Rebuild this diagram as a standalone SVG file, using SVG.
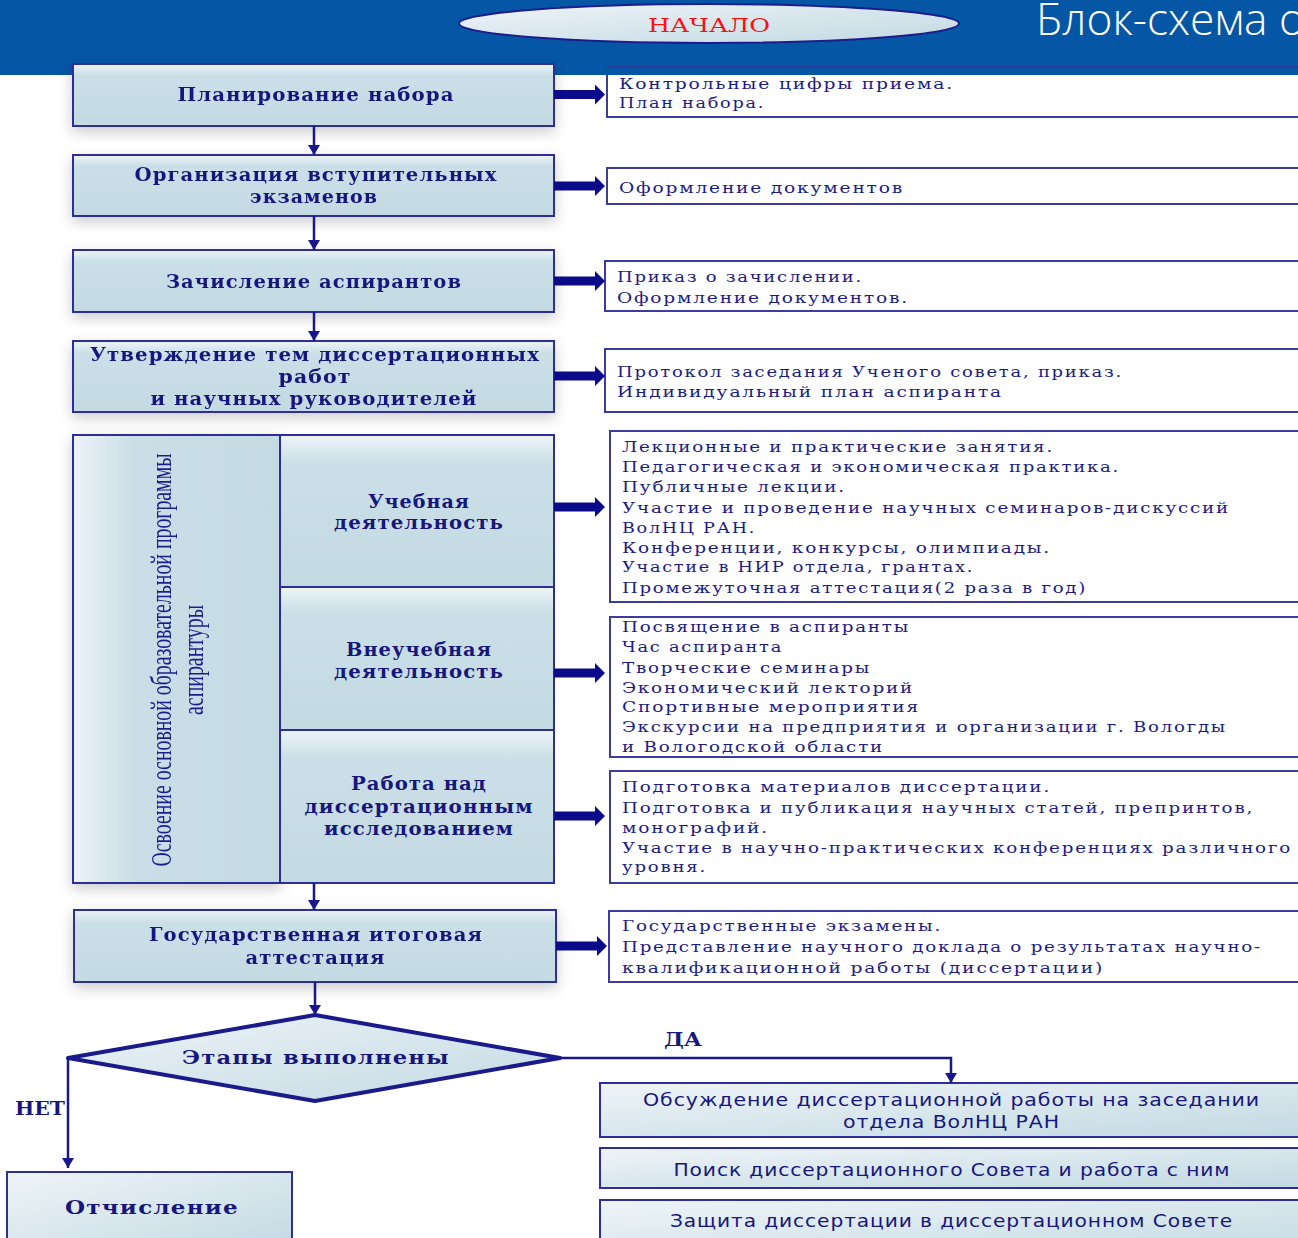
<svg xmlns="http://www.w3.org/2000/svg" width="1298" height="1238" viewBox="0 0 1298 1238">
<style>
.bx{fill:url(#gV);stroke:#2e2e98;stroke-width:2}
.bd{fill:url(#gD);stroke:#2e2e98;stroke-width:2}
.wb{fill:#fff;stroke:#3c3c9c;stroke-width:2}
.t{font-family:"DejaVu Serif","Liberation Serif",serif;font-weight:bold;font-size:18.5px;letter-spacing:1px;fill:#16167c;text-anchor:middle}
.r{font-family:"DejaVu Serif","Liberation Serif",serif;font-size:15.5px;letter-spacing:1.5px;fill:#1c1c84}
.s{font-family:"DejaVu Sans","Open Sans",sans-serif;font-size:18px;letter-spacing:0.8px;fill:#16167c;text-anchor:middle}
.lb{font-family:"DejaVu Serif","Liberation Serif",serif;font-weight:bold;font-size:18px;fill:#16167c}
.ln{fill:none;stroke:#18188c;stroke-width:2.5}
.ta{fill:#0a0a8a}
</style>
<defs>
<linearGradient id="gV" x1="0" y1="0" x2="0" y2="1">
<stop offset="0" stop-color="#eef5f8"/><stop offset="0.18" stop-color="#cadfe7"/><stop offset="1" stop-color="#c4dae3"/>
</linearGradient>
<linearGradient id="gH" x1="0" y1="0" x2="1" y2="0">
<stop offset="0" stop-color="#ecf3f7"/><stop offset="0.3" stop-color="#c9dee6"/><stop offset="1" stop-color="#c5dbe4"/>
</linearGradient>
<linearGradient id="gD" x1="0" y1="0" x2="1" y2="1">
<stop offset="0" stop-color="#eef4f8"/><stop offset="1" stop-color="#c2d9e2"/>
</linearGradient>
<filter id="sh" x="-10%" y="-15%" width="120%" height="140%">
<feDropShadow dx="0" dy="5" stdDeviation="7" flood-color="#000" flood-opacity="0.2"/>
</filter>
<marker id="ah" markerUnits="userSpaceOnUse" markerWidth="12" markerHeight="12" refX="10" refY="6" orient="auto">
<path d="M0,0 L10,6 L0,12 Z" fill="#18188c"/>
</marker>
<path id="tarr" d="M0,-4.5 H41 V-10 L51,0 L41,10 V4.5 H0 Z"/>
</defs>
<rect width="1298" height="1238" fill="#fff"/>

<g id="r1">
<rect class="wb" x="607" y="67" width="710" height="50"/>
</g>

<g id="header">
<rect x="0" y="0" width="1298" height="75" fill="#0556a5"/>
<line x1="607" y1="67" x2="1298" y2="67" stroke="#2a3c98" stroke-width="2"/>
<text x="1036" y="35" font-family="Open Sans, sans-serif" font-weight="300" font-size="45" fill="#fff" textLength="269" lengthAdjust="spacingAndGlyphs">Блок-схема о</text>
</g>

<g id="start">
<ellipse cx="709" cy="23.5" rx="250" ry="19.5" fill="url(#gD)" stroke="#1c1c8c" stroke-width="2"/>
<text x="709" y="32" font-family="DejaVu Serif, serif" font-size="19" fill="#ff1010" text-anchor="middle" textLength="122" lengthAdjust="spacingAndGlyphs">НАЧАЛО</text>
</g>

<g id="r1text">
<text class="r" x="619" y="88.5" textLength="335" lengthAdjust="spacingAndGlyphs">Контрольные цифры приема.</text>
<text class="r" x="619" y="108" textLength="146" lengthAdjust="spacingAndGlyphs">План набора.</text>
</g>

<g id="n1" filter="url(#sh)">
<rect class="bx" x="73" y="64" width="481" height="62"/>
<text class="t" x="316" y="101" textLength="277" lengthAdjust="spacingAndGlyphs">Планирование набора</text>
</g>
<g id="n2" filter="url(#sh)">
<rect class="bx" x="73" y="155" width="481" height="61"/>
<text class="t" x="316" y="181" textLength="363" lengthAdjust="spacingAndGlyphs">Организация вступительных</text>
<text class="t" x="314" y="203" textLength="128" lengthAdjust="spacingAndGlyphs">экзаменов</text>
</g>
<g id="n3" filter="url(#sh)">
<rect class="bx" x="73" y="250" width="481" height="62"/>
<text class="t" x="314" y="287.5" textLength="296" lengthAdjust="spacingAndGlyphs">Зачисление аспирантов</text>
</g>
<g id="n4" filter="url(#sh)">
<rect class="bx" x="73" y="341" width="481" height="71"/>
<text class="t" x="315" y="361" textLength="450" lengthAdjust="spacingAndGlyphs">Утверждение тем диссертационных</text>
<text class="t" x="315" y="382.5" textLength="73" lengthAdjust="spacingAndGlyphs">работ</text>
<text class="t" x="314" y="405" textLength="327" lengthAdjust="spacingAndGlyphs">и научных руководителей</text>
</g>

<g id="n5" filter="url(#sh)">
<rect x="73" y="435" width="207" height="448" fill="url(#gH)" stroke="#2e2e98" stroke-width="2"/>
<text transform="translate(171,660) rotate(-90)" font-family="Liberation Serif, serif" font-size="30" fill="#1c1c8c" text-anchor="middle" textLength="413" lengthAdjust="spacingAndGlyphs">Освоение основной образовательной программы</text>
<text transform="translate(203,660) rotate(-90)" font-family="Liberation Serif, serif" font-size="30" fill="#1c1c8c" text-anchor="middle" textLength="110" lengthAdjust="spacingAndGlyphs">аспирантуры</text>
</g>
<g id="n5a">
<rect class="bx" x="280" y="435" width="274" height="152"/>
<text class="t" x="419" y="507.5" textLength="102" lengthAdjust="spacingAndGlyphs">Учебная</text>
<text class="t" x="419" y="528.5" textLength="170" lengthAdjust="spacingAndGlyphs">деятельность</text>
</g>
<g id="n5b">
<rect class="bx" x="280" y="587" width="274" height="143"/>
<text class="t" x="419" y="656" textLength="146" lengthAdjust="spacingAndGlyphs">Внеучебная</text>
<text class="t" x="419" y="677.5" textLength="170" lengthAdjust="spacingAndGlyphs">деятельность</text>
</g>
<g id="n5c">
<rect class="bx" x="280" y="730" width="274" height="153"/>
<text class="t" x="419" y="790" textLength="136" lengthAdjust="spacingAndGlyphs">Работа над</text>
<text class="t" x="419" y="812.5" textLength="229" lengthAdjust="spacingAndGlyphs">диссертационным</text>
<text class="t" x="419" y="835" textLength="190" lengthAdjust="spacingAndGlyphs">исследованием</text>
</g>

<g id="n6" filter="url(#sh)">
<rect class="bx" x="74" y="910" width="482" height="72"/>
<text class="t" x="316" y="941" textLength="334" lengthAdjust="spacingAndGlyphs">Государственная итоговая</text>
<text class="t" x="315.5" y="963.5" textLength="140" lengthAdjust="spacingAndGlyphs">аттестация</text>
</g>

<g id="decision">
<polygon points="315,1015 560,1058 315,1101 68,1058" fill="url(#gD)" stroke="#1a1a8a" stroke-width="4" stroke-linejoin="round"/>
<text class="t" x="316" y="1064" font-size="19.5" textLength="268" lengthAdjust="spacingAndGlyphs">Этапы выполнены</text>
</g>

<g id="n7">
<rect class="bd" x="7" y="1172" width="285" height="80"/>
<text class="t" x="152" y="1214" textLength="174" lengthAdjust="spacingAndGlyphs">Отчисление</text>
</g>

<g id="n8">
<rect class="bd" x="600" y="1083" width="710" height="54"/>
<text class="s" x="951.5" y="1105.5" textLength="617" lengthAdjust="spacingAndGlyphs">Обсуждение диссертационной работы на заседании</text>
<text class="s" x="951.5" y="1128" textLength="217" lengthAdjust="spacingAndGlyphs">отдела ВолНЦ РАН</text>
</g>
<g id="n9">
<rect class="bd" x="600" y="1148" width="710" height="40"/>
<text class="s" x="952" y="1175.5" textLength="557" lengthAdjust="spacingAndGlyphs">Поиск диссертационного Совета и работа с ним</text>
</g>
<g id="n10">
<rect class="bd" x="600" y="1200" width="710" height="60"/>
<text class="s" x="951.5" y="1227" textLength="563" lengthAdjust="spacingAndGlyphs">Защита диссертации в диссертационном Совете</text>
</g>

<g id="r2">
<rect class="wb" x="607" y="168" width="710" height="36"/>
<text class="r" x="619" y="193" textLength="285" lengthAdjust="spacingAndGlyphs">Оформление документов</text>
</g>
<g id="r3">
<rect class="wb" x="605" y="261" width="710" height="50"/>
<text class="r" x="617" y="281.5" textLength="246" lengthAdjust="spacingAndGlyphs">Приказ о зачислении.</text>
<text class="r" x="617" y="302.5" textLength="292" lengthAdjust="spacingAndGlyphs">Оформление документов.</text>
</g>
<g id="r4">
<rect class="wb" x="605" y="349" width="710" height="63"/>
<text class="r" x="617" y="377" textLength="506" lengthAdjust="spacingAndGlyphs">Протокол заседания Ученого совета, приказ.</text>
<text class="r" x="617" y="396.5" textLength="386" lengthAdjust="spacingAndGlyphs">Индивидуальный план аспиранта</text>
</g>
<g id="r5">
<rect class="wb" x="610" y="431" width="710" height="171"/>
<text class="r" x="622" y="452" textLength="432" lengthAdjust="spacingAndGlyphs">Лекционные и практические занятия.</text>
<text class="r" x="622" y="472" textLength="498" lengthAdjust="spacingAndGlyphs">Педагогическая и экономическая практика.</text>
<text class="r" x="622" y="492" textLength="224" lengthAdjust="spacingAndGlyphs">Публичные лекции.</text>
<text class="r" x="622" y="512.5" textLength="608" lengthAdjust="spacingAndGlyphs">Участие и проведение научных семинаров-дискуссий</text>
<text class="r" x="622" y="532.5" textLength="134" lengthAdjust="spacingAndGlyphs">ВолНЦ РАН.</text>
<text class="r" x="622" y="552.5" textLength="429" lengthAdjust="spacingAndGlyphs">Конференции, конкурсы, олимпиады.</text>
<text class="r" x="622" y="572" textLength="352" lengthAdjust="spacingAndGlyphs">Участие в НИР отдела, грантах.</text>
<text class="r" x="622" y="593" textLength="465" lengthAdjust="spacingAndGlyphs">Промежуточная аттестация(2 раза в год)</text>
</g>
<g id="r6">
<rect class="wb" x="610" y="617" width="710" height="140"/>
<text class="r" x="622" y="632" textLength="288" lengthAdjust="spacingAndGlyphs">Посвящение в аспиранты</text>
<text class="r" x="622" y="652" textLength="161" lengthAdjust="spacingAndGlyphs">Час аспиранта</text>
<text class="r" x="622" y="672.5" textLength="249" lengthAdjust="spacingAndGlyphs">Творческие семинары</text>
<text class="r" x="622" y="692.5" textLength="292" lengthAdjust="spacingAndGlyphs">Экономический лекторий</text>
<text class="r" x="622" y="712" textLength="298" lengthAdjust="spacingAndGlyphs">Спортивные мероприятия</text>
<text class="r" x="622" y="732" textLength="605" lengthAdjust="spacingAndGlyphs">Экскурсии на предприятия и организации г. Вологды</text>
<text class="r" x="622" y="752" textLength="262" lengthAdjust="spacingAndGlyphs">и Вологодской области</text>
</g>
<g id="r7">
<rect class="wb" x="610" y="771" width="710" height="112"/>
<text class="r" x="622" y="792" textLength="429" lengthAdjust="spacingAndGlyphs">Подготовка материалов диссертации.</text>
<text class="r" x="622" y="812.5" textLength="632" lengthAdjust="spacingAndGlyphs">Подготовка и публикация научных статей, препринтов,</text>
<text class="r" x="622" y="832.5" textLength="147" lengthAdjust="spacingAndGlyphs">монографий.</text>
<text class="r" x="622" y="852.5" textLength="670" lengthAdjust="spacingAndGlyphs">Участие в научно-практических конференциях различного</text>
<text class="r" x="622" y="872" textLength="85" lengthAdjust="spacingAndGlyphs">уровня.</text>
</g>
<g id="r8">
<rect class="wb" x="609" y="911" width="710" height="71"/>
<text class="r" x="622" y="931" textLength="320" lengthAdjust="spacingAndGlyphs">Государственные экзамены.</text>
<text class="r" x="622" y="952" textLength="640" lengthAdjust="spacingAndGlyphs">Представление научного доклада о результатах научно-</text>
<text class="r" x="622" y="972.5" textLength="482" lengthAdjust="spacingAndGlyphs">квалификационной работы (диссертации)</text>
</g>

<g id="connectors">
<line class="ln" x1="314" y1="126" x2="314" y2="155" marker-end="url(#ah)"/>
<line class="ln" x1="314" y1="216" x2="314" y2="250" marker-end="url(#ah)"/>
<line class="ln" x1="314" y1="312" x2="314" y2="341" marker-end="url(#ah)"/>
<line class="ln" x1="314" y1="883" x2="314" y2="910" marker-end="url(#ah)"/>
<line class="ln" x1="315" y1="982" x2="315" y2="1015" marker-end="url(#ah)"/>
<path class="ln" d="M68,1058 V1168" marker-end="url(#ah)"/>
<path class="ln" d="M560,1058 H951 V1083" marker-end="url(#ah)"/>
<use href="#tarr" class="ta" x="554" y="94.5"/>
<use href="#tarr" class="ta" x="554" y="186"/>
<use href="#tarr" class="ta" x="554" y="281"/>
<use href="#tarr" class="ta" x="554" y="376"/>
<use href="#tarr" class="ta" x="554" y="507"/>
<use href="#tarr" class="ta" x="554" y="673"/>
<use href="#tarr" class="ta" x="554" y="816"/>
<use href="#tarr" class="ta" x="556" y="946"/>
<text class="lb" x="15" y="1115" textLength="50" lengthAdjust="spacingAndGlyphs">НЕТ</text>
<text class="lb" x="664" y="1046" textLength="38" lengthAdjust="spacingAndGlyphs">ДА</text>
</g>
</svg>
